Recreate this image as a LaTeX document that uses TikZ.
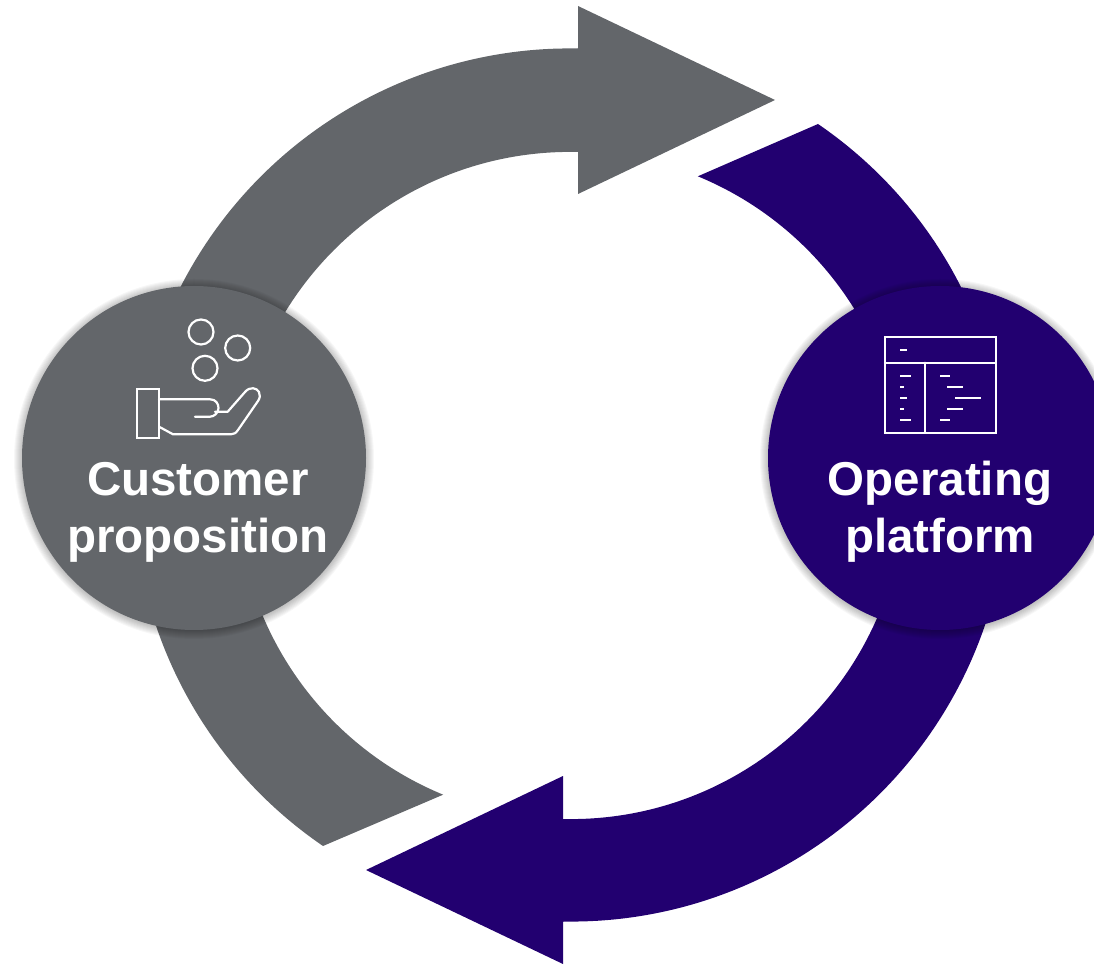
\documentclass[tikz,border=0pt]{standalone}
\usepackage{fontspec}
\setmainfont{Liberation Sans}
\definecolor{greyarrow}{HTML}{63666A}
\definecolor{bluearrow}{HTML}{220070}
\tikzset{
    hub/.style = {circle, minimum size=344pt, inner sep=0pt},
    hublabel/.style = {text=white, align=center, font=\fontsize{47.5}{57}\selectfont\bfseries, inner sep=0pt},
    iconline/.style = {draw=white, line width=2.2pt, line cap=round, line join=round},
    softedge/.pic = {
    \foreach \r in {172,173,...,180} {
    \fill[black, opacity=0.03] (0,0) circle (\r pt);
    }
    }
}
\begin{document}
\begin{tikzpicture}[line cap=round,line join=round,x=1pt,y=1pt]
\useasboundingbox (0,0) rectangle (1094,964);
\clip (0,0) rectangle (1094,964);
\fill [greyarrow, line join=miter] (323,118) arc[start angle=235.6, end angle=89, radius=437pt] -- (578,916) -- (578,958) -- (775,864) -- (578,770) -- (578,812) arc[start angle=88.7, end angle=247.6, radius=334pt] -- cycle;
\fill [bluearrow, line join=miter] (818,840) arc[start angle=55.6, end angle=-91, radius=437pt] -- (563,42) -- (563,0) -- (366,94) -- (563,188) -- (563,145) arc[start angle=-91.3, end angle=67.6, radius=334pt] -- cycle;

\path (194,505) pic {softedge};
\path (940,505) pic {softedge};
\node [hub, fill=greyarrow] (customer) at (194,506) {};
\node [hub, fill=bluearrow] (platform) at (940,506) {};
\node [hublabel] (customerlabel) at (198,452) {Customer\\proposition};
\node [hublabel] (platformlabel) at (940,452) {Operating\\platform};

% hand and coins
\begin{scope}[y=-1pt, shift={(0pt,964pt)}]
\draw [iconline] (201,332) circle (12.5pt);
\draw [iconline] (237.7,348) circle (12.5pt);
\draw [iconline] (205,368.3) circle (12.5pt);
\draw [iconline, line join=miter] (136.7,389.3) rectangle (159,438.3);
\draw [iconline] (159,399.3) -- (210,399.3) .. controls (216,399.3) and (218.5,404) .. (218.5,408) .. controls (218.5,413) and (214,416.7) .. (210,416.7) -- (195,416.7);
\draw [iconline] (215,411.7) -- (227.7,411.7) -- (245,392) .. controls (250,386) and (257,388) .. (259,392) .. controls (260.5,395) and (260,398) .. (258,401) -- (238,430) .. controls (236,433) and (234,434.3) .. (231,434.3) -- (173,434.3) -- (159,426.7);
% table
\draw [iconline, line join=miter] (885,336.7) rectangle (995.7,432.7);
\draw [iconline] (885,362.7) -- (995.7,362.7);
\draw [iconline] (925.3,362.7) -- (925.3,432.7);
\begin{scope}[line width=2.2pt, white, line cap=butt]
\draw (900,350) -- (907.3,350);
\draw (900,375.7) -- (911,375.7);
\draw (900,386.7) -- (903.7,386.7);
\draw (900,397.7) -- (907.3,397.7);
\draw (900,408.7) -- (903.7,408.7);
\draw (900,419.7) -- (911,419.7);
\draw (940,375.7) -- (950,375.7);
\draw (947.3,386.7) -- (962.7,386.7);
\draw (955,397.7) -- (980.7,397.7);
\draw (947.3,408.7) -- (962.7,408.7);
\draw (940,419.7) -- (950,419.7);
\end{scope}
\end{scope}
\end{tikzpicture}
\end{document}
